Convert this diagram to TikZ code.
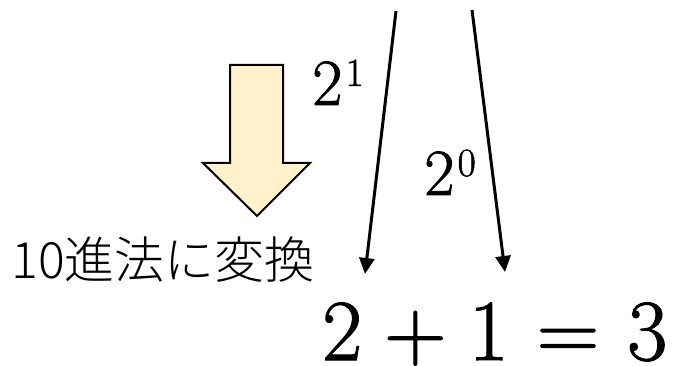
\documentclass[tikz,border=0pt]{standalone}
\usepackage{fontspec}
\newfontfamily\cjk{Noto Sans CJK JP Light}
\newfontfamily\eqfont{Latin Modern Roman}[FakeBold=1.2]
\usetikzlibrary{arrows.meta}
\definecolor{fatfill}{HTML}{FFF2CC}
\tikzset{
  thinarrow/.style={line width=3pt,-{Triangle[length=16pt,width=15pt]}},
  fatarrow/.style={draw=black,line width=2pt,fill=fatfill,line join=miter},
  powlabel/.style={inner sep=0pt,anchor=base west,font=\eqfont\fontsize{66}{70}\selectfont},
}
\newcommand{\powsup}[1]{\raisebox{19pt}{\fontsize{40}{44}\selectfont #1}}
\begin{document}
\begin{tikzpicture}[x=1pt,y=-1pt]
\useasboundingbox (0,0) rectangle (677,366);
% fat arrow
\draw[fatarrow] (230,65) -- (283,65) -- (283,163) -- (310,163) -- (257,216) -- (203,163) -- (230,163) -- cycle;
% label
\node[inner sep=0pt,anchor=base,font=\cjk\fontsize{50}{56}\selectfont] (conv) at (163,278) {10進法に変換};
% thin arrows
\coordinate (s1) at (396,11);
\coordinate (e1) at (365,274);
\coordinate (s0) at (472,10);
\coordinate (e0) at (505,272);
\draw[thinarrow] (s1) -- (e1);
\draw[thinarrow] (s0) -- (e0);
% powers
\node[powlabel] (p1) at (312,105) {2\kern3pt\powsup{1}};
\node[powlabel] (p0) at (424,195) {2\kern3pt\powsup{0}};
% equation
\node[inner sep=0pt,anchor=base west,font=\eqfont\fontsize{87}{90}\selectfont] (eq) at (322,360) {\raisebox{0pt}[\height][0pt]{2\kern22pt+\kern22pt1\kern28pt=\kern28pt3}};
\end{tikzpicture}
\end{document}
